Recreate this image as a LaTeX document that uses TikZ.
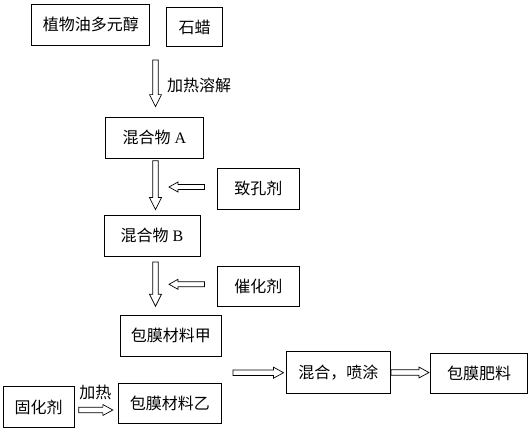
\documentclass[tikz,border=0pt]{standalone}
\usepackage{fontspec}
\setmainfont{Liberation Serif}
\newfontfamily\cjk{Noto Sans CJK SC}
\usetikzlibrary{calc}
\tikzset{
  box/.style={draw, line width=0.8pt, inner sep=0pt, font=\fontsize{16}{19}\selectfont\cjk},
  lbl/.style={inner sep=0pt, font=\fontsize{16}{19}\selectfont\cjk},
  arr/.style={draw, line width=0.7pt, fill=white, line join=miter},
  darr/.style={arr, to path={let \p1=(\tikztostart), \p2=(\tikztotarget) in
    (\x1-2.8pt,\y1) -- (\x1-2.8pt,\y2+12pt) -- (\x1-6pt,\y2+12pt) -- (\x1,\y2)
    -- (\x1+6pt,\y2+12pt) -- (\x1+2.8pt,\y2+12pt) -- (\x1+2.8pt,\y1) -- cycle}},
  rarr/.style={arr, to path={let \p1=(\tikztostart), \p2=(\tikztotarget) in
    (\x1,\y1-2.8pt) -- (\x2-10pt,\y1-2.8pt) -- (\x2-10pt,\y1-5.5pt) -- (\x2,\y1)
    -- (\x2-10pt,\y1+5.5pt) -- (\x2-10pt,\y1+2.8pt) -- (\x1,\y1+2.8pt) -- cycle}},
  larr/.style={arr, to path={let \p1=(\tikztostart), \p2=(\tikztotarget) in
    (\x1,\y1-2.5pt) -- (\x2+9pt,\y1-2.5pt) -- (\x2+9pt,\y1-5pt) -- (\x2,\y1)
    -- (\x2+9pt,\y1+5pt) -- (\x2+9pt,\y1+2.5pt) -- (\x1,\y1+2.5pt) -- cycle}},
}
\begin{document}
\begin{tikzpicture}[x=1pt,y=-1pt]
\useasboundingbox[fill=white] (0,0) rectangle (531,432);
% boxes
\node[box, minimum width=118pt, minimum height=41pt] (oil) at (90.8,24.5) {植物油多元醇};
\node[box, minimum width=55.6pt, minimum height=39.4pt] (wax) at (194.5,27) {石蜡};
\node[box, minimum width=97.6pt, minimum height=41pt] (mixA) at (154.5,137.8) {混合物\rmfamily\ A};
\node[box, minimum width=81.3pt, minimum height=41pt] (pore) at (258.3,188.8) {致孔剂};
\node[box, minimum width=96pt, minimum height=41.7pt] (mixB) at (152,235.8) {混合物\rmfamily\ B};
\node[box, minimum width=81.3pt, minimum height=40.7pt] (cat) at (258.3,286.3) {催化剂};
\node[box, minimum width=101.7pt, minimum height=41.7pt] (matA) at (170.8,335.8) {包膜材料甲};
\node[box, minimum width=103.7pt, minimum height=40pt] (matB) at (169.8,403) {包膜材料乙};
\node[box, minimum width=70.7pt, minimum height=40.6pt] (cure) at (38.7,407) {固化剂};
\node[box, minimum width=104.7pt, minimum height=41.6pt] (mix) at (338.3,372.5) {混合，喷涂};
\node[box, minimum width=97pt, minimum height=40.3pt] (fert) at (479.2,373.2) {包膜肥料};
% labels
\node[lbl, anchor=west] (heatdis) at (167,85) {加热溶解};
\node[lbl] (heat) at (95.3,392.7) {加热};
% free ends
\coordinate (top) at (155.5,60);
\coordinate (tip1) at (169,187);
\coordinate (tip2) at (169,284.3);
\coordinate (join) at (233,372.7);
% arrows
\draw[darr] (top) to ([yshift=10.3pt]mixA.north);
\draw[darr] ([xshift=1pt,yshift=-2pt]mixA.south) to ([yshift=5pt]mixB.north);
\draw[darr] ([xshift=3.5pt,yshift=-5pt]mixB.south) to ([yshift=8.3pt]matA.north);
\draw[larr] ([xshift=-12.7pt,yshift=1.8pt]pore.west) to (tip1);
\draw[larr] ([xshift=-12.7pt,yshift=2pt]cat.west) to (tip2);
\draw[rarr] (join) to ([xshift=-2pt]mix.west);
\draw[rarr] (mix.east) to ([xshift=-1.4pt]fert.west);
\draw[rarr] ([xshift=4.3pt,yshift=-3pt]cure.east) to ([xshift=-4.7pt]matB.west);
\end{tikzpicture}
\end{document}
